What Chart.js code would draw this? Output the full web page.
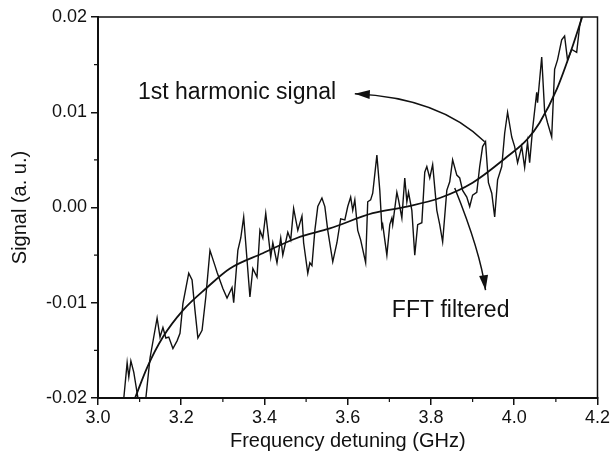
<!DOCTYPE html>
<html>
<head>
<meta charset="utf-8">
<script src="https://cdn.jsdelivr.net/npm/chart.js@4/dist/chart.umd.min.js"></script>
<style>
  body { margin: 0; background: #fff; }
  #wrap { width: 612px; height: 466px; }
</style>
</head>
<body>
<div id="wrap"><canvas id="signalChart" width="612" height="466"></canvas></div>
<script>
// 1st harmonic signal (raw, noisy)
const freqNoisy = [3.062,3.070,3.074,3.079,3.086,3.096,3.106,3.115,3.125,3.142,3.149,3.156,3.163,3.170,3.180,3.190,3.197,3.204,3.218,3.226,3.233,3.240,3.250,3.259,3.269,3.281,3.286,3.300,3.310,3.322,3.326,3.336,3.343,3.350,3.365,3.372,3.382,3.389,3.396,3.403,3.415,3.420,3.430,3.439,3.444,3.456,3.463,3.470,3.480,3.490,3.494,3.504,3.509,3.514,3.521,3.528,3.538,3.545,3.552,3.564,3.574,3.583,3.593,3.600,3.607,3.612,3.617,3.624,3.631,3.643,3.648,3.655,3.660,3.670,3.677,3.682,3.684,3.694,3.701,3.706,3.708,3.718,3.722,3.730,3.737,3.742,3.746,3.754,3.761,3.768,3.778,3.785,3.790,3.797,3.804,3.814,3.821,3.828,3.838,3.845,3.852,3.862,3.869,3.876,3.886,3.893,3.900,3.910,3.917,3.924,3.931,3.938,3.946,3.953,3.960,3.970,3.977,3.984,3.994,4.001,4.008,4.018,4.025,4.032,4.037,4.044,4.054,4.056,4.066,4.073,4.080,4.090,4.097,4.104,4.114,4.121,4.128,4.138,4.150,4.157,4.164];
const signalNoisy = [-0.0200,-0.0163,-0.0178,-0.0161,-0.0173,-0.0200,-0.0208,-0.0200,-0.0158,-0.0116,-0.0136,-0.0126,-0.0137,-0.0136,-0.0148,-0.0140,-0.0132,-0.0101,-0.0069,-0.0076,-0.0108,-0.0137,-0.0129,-0.0094,-0.0045,-0.0061,-0.0068,-0.0085,-0.0095,-0.0084,-0.0100,-0.0045,-0.0032,-0.0010,-0.0094,-0.0064,-0.0073,-0.0024,-0.0032,-0.0006,-0.0052,-0.0037,-0.0058,-0.0032,-0.0050,-0.0026,-0.0034,-0.0001,-0.0024,-0.0009,-0.0037,-0.0069,-0.0058,-0.0061,-0.0024,0.0001,0.0010,0.0001,-0.0024,-0.0057,-0.0037,-0.0012,-0.0013,0.0001,0.0011,-0.0003,0.0008,-0.0024,-0.0034,-0.0058,0.0006,0.0008,0.0015,0.0055,0.0018,-0.0021,-0.0018,-0.0050,-0.0018,-0.0011,-0.0018,0.0016,0.0008,-0.0011,0.0031,0.0006,0.0016,-0.0003,-0.0050,-0.0018,-0.0016,0.0037,0.0043,0.0031,0.0045,-0.0003,-0.0018,-0.0036,0.0018,0.0027,0.0050,0.0034,0.0031,0.0018,0.0011,0.0001,0.0013,0.0016,0.0043,0.0064,0.0069,0.0026,0.0015,-0.0010,0.0029,0.0043,0.0078,0.0100,0.0074,0.0064,0.0047,0.0064,0.0042,0.0069,0.0047,0.0082,0.0121,0.0110,0.0158,0.0101,0.0089,0.0074,0.0145,0.0155,0.0176,0.0180,0.0155,0.0166,0.0163,0.0190,0.0205];

// FFT filtered curve
const freqFit = [3.089,3.118,3.156,3.204,3.262,3.317,3.396,3.478,3.557,3.660,3.742,3.821,3.900,3.982,4.030,4.061,4.102,4.140,4.164];
const signalFit = [-0.0200,-0.0168,-0.0136,-0.0108,-0.0084,-0.0064,-0.0048,-0.0032,-0.0022,-0.0006,0.0001,0.0010,0.0026,0.0053,0.0071,0.0089,0.0124,0.0169,0.0201];

// axis ticks
const xTicks = [3.0, 3.2, 3.4, 3.6, 3.8, 4.0, 4.2];
const yTicks = [-0.02, -0.01, 0.00, 0.01, 0.02];
const xMinor = [3.1, 3.3, 3.5, 3.7, 3.9, 4.1];
const yMinor = [-0.015, -0.005, 0.005, 0.015];

// annotations: [text, x, y] and arrows [start, control, tip] in data units
const notes = [["1st harmonic signal", 3.096, 0.01205], ["FFT filtered", 3.706, -0.01079]];
const arrows = [
  [[3.929, 0.0069], [3.821, 0.01153], [3.617, 0.01195]],
  [[3.857, 0.00205], [3.919, -0.00468], [3.931, -0.00868]]
];

const ink = "#111";
const fontFamily = "'Liberation Sans', Arial, sans-serif";

function toPoints(xs, ys) {
  return xs.map((x, i) => ({ x: x, y: ys[i] }));
}

const extras = {
  id: "extras",
  afterDatasetsDraw(chart) {
    const ctx = chart.ctx;
    const a = chart.chartArea;
    const xs = chart.scales.x;
    const ys = chart.scales.y;
    ctx.save();
    ctx.strokeStyle = ink;
    ctx.fillStyle = ink;

    // frame
    ctx.lineWidth = 1.5;
    ctx.strokeRect(a.left, a.top, a.right - a.left, a.bottom - a.top);

    // minor ticks
    ctx.lineWidth = 1.2;
    ctx.beginPath();
    xMinor.forEach(v => {
      const px = xs.getPixelForValue(v);
      ctx.moveTo(px, a.bottom);
      ctx.lineTo(px, a.bottom + 4);
    });
    yMinor.forEach(v => {
      const py = ys.getPixelForValue(v);
      ctx.moveTo(a.left, py);
      ctx.lineTo(a.left - 4, py);
    });
    ctx.stroke();

    // arrows
    ctx.lineWidth = 1.5;
    arrows.forEach(arr => {
      const p = arr.map(q => [xs.getPixelForValue(q[0]), ys.getPixelForValue(q[1])]);
      ctx.beginPath();
      ctx.moveTo(p[0][0], p[0][1]);
      ctx.quadraticCurveTo(p[1][0], p[1][1], p[2][0], p[2][1]);
      ctx.stroke();
      const ang = Math.atan2(p[2][1] - p[1][1], p[2][0] - p[1][0]);
      const len = 15, half = 4.5;
      const bx = p[2][0] - len * Math.cos(ang), by = p[2][1] - len * Math.sin(ang);
      ctx.beginPath();
      ctx.moveTo(p[2][0], p[2][1]);
      ctx.lineTo(bx + half * Math.sin(ang), by - half * Math.cos(ang));
      ctx.lineTo(bx - half * Math.sin(ang), by + half * Math.cos(ang));
      ctx.closePath();
      ctx.fill();
    });

    // labels
    ctx.font = "23px " + fontFamily;
    ctx.textAlign = "left";
    ctx.textBaseline = "middle";
    notes.forEach(n => {
      ctx.fillText(n[0], xs.getPixelForValue(n[1]), ys.getPixelForValue(n[2]));
    });
    ctx.restore();
  }
};

new Chart(document.getElementById("signalChart").getContext("2d"), {
  type: "scatter",
  data: {
    datasets: [
      {
        label: "1st harmonic signal",
        data: toPoints(freqNoisy, signalNoisy),
        showLine: true,
        borderColor: ink,
        borderWidth: 1.4,
        pointRadius: 0,
        tension: 0
      },
      {
        label: "FFT filtered",
        data: toPoints(freqFit, signalFit),
        showLine: true,
        borderColor: ink,
        borderWidth: 1.8,
        pointRadius: 0,
        cubicInterpolationMode: "monotone"
      }
    ]
  },
  options: {
    responsive: false,
    animation: false,
    layout: { padding: { top: 17, right: 14, left: 0, bottom: 0 } },
    plugins: { legend: { display: false }, tooltip: { enabled: false } },
    scales: {
      x: {
        type: "linear",
        min: 3.0,
        max: 4.2,
        afterBuildTicks: s => { s.ticks = xTicks.map(v => ({ value: v })); },
        afterFit: s => { s.height = 68; },
        grid: { drawOnChartArea: false, tickLength: 7, color: ink, lineWidth: 1.5 },
        border: { color: ink, width: 2 },
        ticks: {
          color: ink,
          padding: 2,
          maxRotation: 0,
          font: { family: fontFamily, size: 18 },
          callback: v => v.toFixed(1)
        },
        title: {
          display: true,
          text: "Frequency detuning (GHz)",
          color: ink,
          font: { family: fontFamily, size: 20 },
          padding: { top: 0, bottom: 13 }
        }
      },
      y: {
        type: "linear",
        min: -0.02,
        max: 0.02,
        afterBuildTicks: s => { s.ticks = yTicks.map(v => ({ value: v })); },
        afterFit: s => { s.width = 98; },
        grid: { drawOnChartArea: false, tickLength: 7, color: ink, lineWidth: 1.5 },
        border: { color: ink, width: 2 },
        ticks: {
          color: ink,
          padding: 4,
          font: { family: fontFamily, size: 18 },
          callback: v => (Math.abs(v) < 1e-9 ? 0 : v).toFixed(2)
        },
        title: {
          display: true,
          text: "Signal (a. u.)",
          color: ink,
          font: { family: fontFamily, size: 20 },
          padding: { top: 8, bottom: 0 }
        }
      }
    }
  },
  plugins: [extras]
});
</script>
</body>
</html>
